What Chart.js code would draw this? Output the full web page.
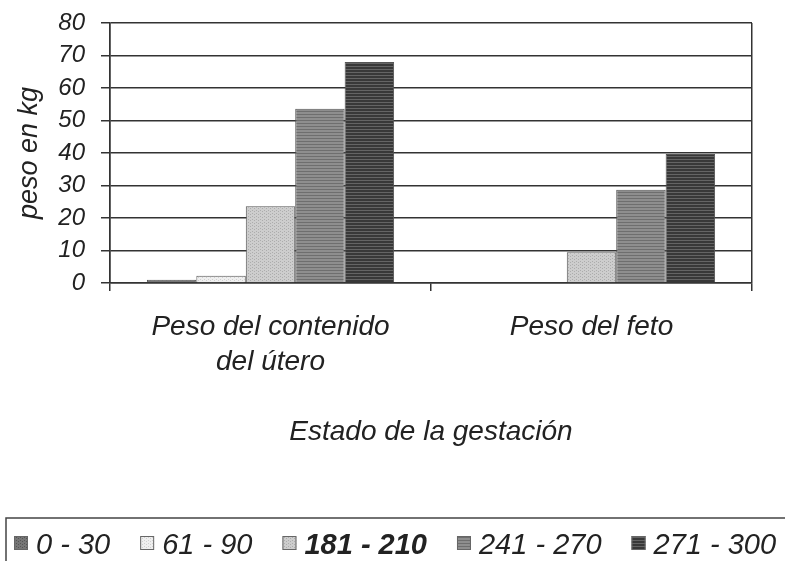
<!DOCTYPE html>
<html>
<head>
<meta charset="utf-8">
<title>Peso en la gestación</title>
<script src="https://cdn.jsdelivr.net/npm/chart.js@4.4.1/dist/chart.umd.min.js"></script>
<style>
  html, body { margin: 0; padding: 0; background: #fff; }
  #wrap { width: 785px; height: 561px; }
</style>
</head>
<body>
<div id="wrap"><canvas id="chart" width="785" height="561"></canvas></div>
<script>
// categorías del eje x y series (días de gestación)
const categories = [['Peso del contenido', 'del útero'], 'Peso del feto'];
const seriesLabels = ['0 - 30', '61 - 90', '181 - 210', '241 - 270', '271 - 300'];
const dias0a30 = [1.0, 0];
const dias61a90 = [2.2, 0];
const dias181a210 = [23.6, 9.5];
const dias241a270 = [53.6, 28.7];
const dias271a300 = [68.0, 39.7];
const yTicks = [0, 10, 20, 30, 40, 50, 60, 70, 80];
const boldSeries = '181 - 210';

const FONT = "'Liberation Sans', Arial, sans-serif";

// tramas en gris, como en la impresión original
function trama(base, ink, kind) {
    const c = document.createElement('canvas');
    c.width = 4; c.height = 3;
    const g = c.getContext('2d');
    g.fillStyle = base;
    g.fillRect(0, 0, 4, 3);
    g.fillStyle = ink;
    if (kind === 'lines') {
        g.fillRect(0, 0, 4, 1);
    } else {
        g.fillRect(0, 0, 1, 1);
        g.fillRect(2, 1, 1, 1);
    }
    return g.createPattern(c, 'repeat');
}

const fills = [
    trama('#767676', '#555555', 'dots'),
    trama('#efefef', '#d0d0d0', 'dots'),
    trama('#cdcdcd', '#acacac', 'dots'),
    trama('#8e8e8e', '#6e6e6e', 'lines'),
    trama('#383838', '#646464', 'lines')
];
const seriesData = [dias0a30, dias61a90, dias181a210, dias241a270, dias271a300];

// leyenda en una franja abajo, con un tramo en negrita
const legendStrip = {
    id: 'legendStrip',
    afterDraw(chart) {
        const ctx = chart.ctx;
        const top = 518;
        ctx.save();
        ctx.strokeStyle = '#444';
        ctx.lineWidth = 1.5;
        ctx.beginPath();
        ctx.moveTo(785, top);
        ctx.lineTo(6, top);
        ctx.lineTo(6, 561);
        ctx.stroke();

        ctx.textBaseline = 'alphabetic';
        let x = 14;
        chart.data.datasets.forEach(ds => {
            const bold = ds.label === boldSeries;
            ctx.font = (bold ? 'italic bold ' : 'italic ') + '29px ' + FONT;
            ctx.fillStyle = ds.backgroundColor;
            ctx.fillRect(x, 536, 14, 14);
            ctx.strokeStyle = '#666';
            ctx.lineWidth = 1;
            ctx.strokeRect(x + 0.5, 536.5, 13, 13);
            ctx.fillStyle = '#222';
            ctx.fillText(ds.label, x + 22, 554);
            x += 14 + 8 + ctx.measureText(ds.label).width + 30;
        });
        ctx.restore();
    }
};

new Chart(document.getElementById('chart'), {
    type: 'bar',
    data: {
        labels: categories,
        datasets: seriesLabels.map((label, i) => ({
            label: label,
            data: seriesData[i],
            backgroundColor: fills[i],
            borderColor: '#555',
            borderWidth: 1,
            categoryPercentage: 0.77,
            barPercentage: 1.0
        }))
    },
    options: {
        responsive: false,
        animation: false,
        layout: { padding: { top: 23, right: 33, left: 0, bottom: 112 } },
        plugins: {
            legend: { display: false },
            tooltip: { enabled: false }
        },
        scales: {
            x: {
                grid: {
                    offset: true,
                    drawOnChartArea: true,
                    color: c => (c.index === 1 ? 'rgba(0,0,0,0)' : '#333'),
                    tickColor: '#333',
                    lineWidth: 1.5,
                    tickLength: 8
                },
                border: { color: '#333', width: 1.5 },
                ticks: {
                    color: '#222',
                    padding: 19,
                    maxRotation: 0,
                    font: { family: FONT, size: 28, style: 'italic', lineHeight: 1.25 }
                },
                title: {
                    display: true,
                    text: 'Estado de la gestación',
                    color: '#222',
                    padding: { top: 0, bottom: 0 },
                    font: { family: FONT, size: 28, style: 'italic' }
                },
                afterFit(scale) { scale.height = 166; }
            },
            y: {
                min: 0,
                max: 80,
                afterBuildTicks(scale) { scale.ticks = yTicks.map(v => ({ value: v })); },
                grid: { color: '#333', lineWidth: 1.5, tickLength: 9 },
                border: { color: '#333', width: 1.5 },
                ticks: {
                    color: '#222',
                    padding: 16,
                    autoSkip: false,
                    font: { family: FONT, size: 24, style: 'italic' }
                },
                title: {
                    display: true,
                    text: 'peso en kg',
                    color: '#222',
                    padding: { top: 13, bottom: 0 },
                    font: { family: FONT, size: 27, style: 'italic' }
                },
                afterFit(scale) {
                    scale.width = 110;
                    scale.paddingTop = 0;
                    scale.paddingBottom = 0;
                }
            }
        }
    },
    plugins: [legendStrip]
});
</script>
</body>
</html>
